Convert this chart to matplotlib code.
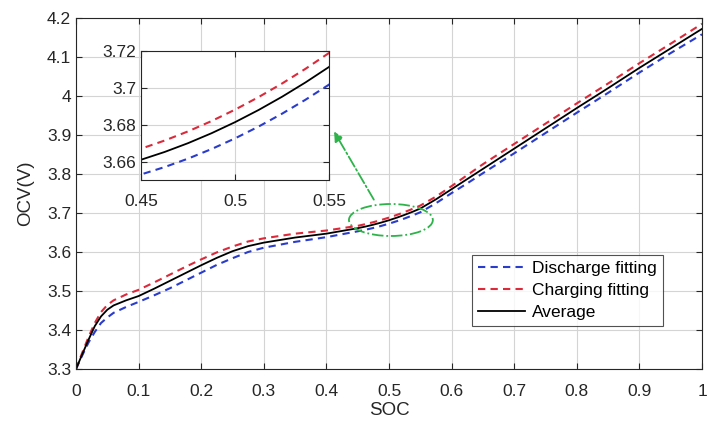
import matplotlib
matplotlib.use("Agg")
import matplotlib.pyplot as plt
from matplotlib.patches import Ellipse

plt.rcParams["font.family"] = ["Liberation Sans", "DejaVu Sans"]

# SOC grid and OCV curves
soc = [0, 0.01, 0.02, 0.03, 0.04, 0.05, 0.06, 0.08, 0.1, 0.125, 0.15, 0.175, 0.2,
       0.225, 0.25, 0.275, 0.3, 0.35, 0.4, 0.45, 0.4625, 0.475, 0.4875, 0.5,
       0.5125, 0.525, 0.5375, 0.55, 0.575, 0.6, 0.625, 0.65, 0.7, 0.75, 0.8,
       0.85, 0.9, 0.95, 1.0]
discharge = [3.30, 3.335, 3.368, 3.395, 3.418, 3.432, 3.444, 3.459, 3.472, 3.489,
             3.507, 3.527, 3.547, 3.567, 3.584, 3.600, 3.611, 3.626, 3.638, 3.653,
             3.657, 3.6616, 3.6668, 3.6726, 3.679, 3.686, 3.6936, 3.7018, 3.725,
             3.751, 3.776, 3.802, 3.853, 3.905, 3.957, 4.008, 4.060, 4.110, 4.158]
charging = [3.30, 3.342, 3.382, 3.418, 3.446, 3.464, 3.476, 3.491, 3.503, 3.522,
            3.542, 3.562, 3.581, 3.599, 3.614, 3.627, 3.635, 3.647, 3.655, 3.667,
            3.6714, 3.6764, 3.682, 3.6882, 3.695, 3.7024, 3.7104, 3.719, 3.742,
            3.769, 3.797, 3.825, 3.877, 3.929, 3.981, 4.032, 4.084, 4.134, 4.185]
average = [3.30, 3.338, 3.375, 3.410, 3.435, 3.452, 3.463, 3.476, 3.487, 3.506,
           3.526, 3.546, 3.566, 3.585, 3.602, 3.615, 3.624, 3.637, 3.647, 3.661,
           3.6652, 3.670, 3.6754, 3.6814, 3.688, 3.6952, 3.703, 3.7114, 3.735,
           3.761, 3.787, 3.813, 3.865, 3.917, 3.969, 4.020, 4.072, 4.122, 4.172]

xticks = [0, 0.1, 0.2, 0.3, 0.4, 0.5, 0.6, 0.7, 0.8, 0.9, 1]
xticklabels = ["0", "0.1", "0.2", "0.3", "0.4", "0.5", "0.6", "0.7", "0.8", "0.9", "1"]
yticks = [3.3, 3.4, 3.5, 3.6, 3.7, 3.8, 3.9, 4.0, 4.1, 4.2]
yticklabels = ["3.3", "3.4", "3.5", "3.6", "3.7", "3.8", "3.9", "4", "4.1", "4.2"]

inset_xticks = [0.45, 0.5, 0.55]
inset_xticklabels = ["0.45", "0.5", "0.55"]
inset_yticks = [3.66, 3.68, 3.70, 3.72]
inset_yticklabels = ["3.66", "3.68", "3.7", "3.72"]

blue = "#2a3ccc"
red = "#dc2a3a"
green = "#2db34a"
axcol = "#262626"
dash = (3.5, 2.5)


def style_axes(ax, fs):
    ax.grid(True, color="#d4d4d4", linewidth=0.8)
    ax.set_axisbelow(True)
    ax.tick_params(direction="in", top=True, right=True, length=4,
                   color=axcol, labelcolor=axcol, labelsize=fs, width=0.8)
    for s in ax.spines.values():
        s.set_color(axcol)
        s.set_linewidth(0.8)


fig = plt.figure(figsize=(7.13, 4.24), dpi=100)
ax = fig.add_axes([0.1066, 0.1297, 0.878, 0.828])

ax.plot(soc, discharge, "--", color=blue, lw=1.5, dashes=dash, label="Discharge fitting")
ax.plot(soc, charging, "--", color=red, lw=1.5, dashes=dash, label="Charging fitting")
ax.plot(soc, average, "-", color="black", lw=1.3, label="Average")

ax.set_xlim(0, 1)
ax.set_ylim(3.3, 4.2)
ax.set_xticks(xticks)
ax.set_xticklabels(xticklabels)
ax.set_yticks(yticks)
ax.set_yticklabels(yticklabels)
style_axes(ax, 12.5)
ax.tick_params(axis="x", pad=11)
ax.set_xlabel("SOC", fontsize=13.5, color=axcol, labelpad=2)
ax.set_ylabel("OCV(V)", fontsize=13.5, color=axcol, labelpad=9)

leg = ax.legend(loc="lower right", bbox_to_anchor=(0.937, 0.122), fontsize=12.5,
                frameon=True, fancybox=False, edgecolor=axcol, handlelength=2.7,
                handletextpad=0.4, borderpad=0.35, labelspacing=0.4, borderaxespad=0)
leg.get_frame().set_linewidth(0.8)

# zoom region marker and arrow
ell = Ellipse((0.503, 3.682), 0.134, 0.082, fill=False, edgecolor=green,
              linestyle="-.", lw=1.3, zorder=5)
ax.add_patch(ell)
ax.annotate("", xy=(0.41, 3.915), xytext=(0.478, 3.728),
            arrowprops=dict(arrowstyle="-|>", color=green, lw=1.3, linestyle="-.",
                            mutation_scale=14))

# inset
ins = fig.add_axes([0.1978, 0.5755, 0.2637, 0.304])
ins.set_facecolor("white")
ins.plot(soc, discharge, "--", color=blue, lw=1.5, dashes=dash)
ins.plot(soc, charging, "--", color=red, lw=1.5, dashes=dash)
ins.plot(soc, average, "-", color="black", lw=1.3)
ins.set_xlim(0.45, 0.55)
ins.set_ylim(3.65, 3.72)
ins.set_xticks(inset_xticks)
ins.set_xticklabels(inset_xticklabels)
ins.set_yticks(inset_yticks)
ins.set_yticklabels(inset_yticklabels)
style_axes(ins, 12.5)
ins.tick_params(axis="x", pad=10)

fig.savefig("out.png", dpi=100)
